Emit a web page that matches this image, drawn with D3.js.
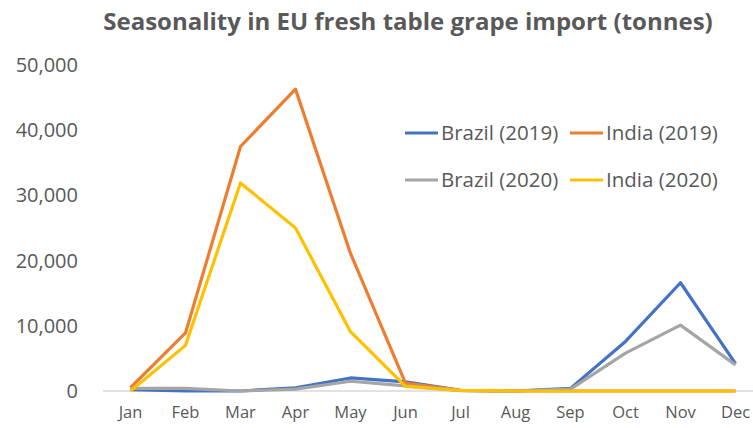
<!DOCTYPE html>
<html>
<head>
<meta charset="utf-8">
<script src="https://cdn.jsdelivr.net/npm/d3@7"></script>
<style>
  body { margin: 0; background: #fff; }
  svg { display: block; font-family: "Open Sans", sans-serif; }
</style>
</head>
<body>
<div id="chart"></div>
<script>
const months = ["Jan", "Feb", "Mar", "Apr", "May", "Jun", "Jul", "Aug", "Sep", "Oct", "Nov", "Dec"];
const brazil2019 = [200, 0, 0, 500, 2000, 1400, 100, 0, 400, 7600, 16600, 4200];
const india2019 = [500, 8900, 37500, 46300, 21100, 1200, 100, 0, 0, 0, 0, 0];
const brazil2020 = [400, 400, 0, 300, 1500, 800, 50, 0, 300, 5800, 10100, 4000];
const india2020 = [0, 7000, 31900, 25000, 9100, 700, 100, 0, 0, 0, 0, 0];
const yTicks = [0, 10000, 20000, 30000, 40000, 50000];

const series = [
  { name: "Brazil (2019)", values: brazil2019, color: "#4472C4" },
  { name: "India (2019)", values: india2019, color: "#ED7D31" },
  { name: "Brazil (2020)", values: brazil2020, color: "#A5A5A5" },
  { name: "India (2020)", values: india2020, color: "#FFC000" }
];

const width = 753;
const height = 428;
const margin = { top: 65, right: 0, bottom: 37, left: 103 };

const svg = d3.select("#chart")
  .append("svg")
  .attr("width", width)
  .attr("height", height);

const xScale = d3.scaleBand()
  .domain(months)
  .range([margin.left, margin.left + 55 * 12]);

const yScale = d3.scaleLinear()
  .domain([0, 50000])
  .range([height - margin.bottom, margin.top]);

// baseline
svg.append("line")
  .attr("x1", margin.left)
  .attr("x2", width)
  .attr("y1", yScale(0))
  .attr("y2", yScale(0))
  .attr("stroke", "#D9D9D9")
  .attr("stroke-width", 1.5);

// y axis labels
svg.selectAll(".yLabel")
  .data(yTicks)
  .enter()
  .append("text")
  .attr("class", "yLabel")
  .attr("x", 78)
  .attr("y", d => yScale(d))
  .attr("dy", "0.35em")
  .attr("text-anchor", "end")
  .style("font-size", "20px")
  .style("fill", "#595959")
  .text(d => d3.format(",")(d));

// x axis labels
svg.selectAll(".xLabel")
  .data(months)
  .enter()
  .append("text")
  .attr("class", "xLabel")
  .attr("x", d => xScale(d) + xScale.bandwidth() / 2)
  .attr("y", yScale(0) + 27)
  .attr("text-anchor", "middle")
  .style("font-size", "16.5px")
  .style("fill", "#595959")
  .text(d => d);

const line = d3.line()
  .x((d, i) => xScale(months[i]) + xScale.bandwidth() / 2)
  .y(d => yScale(d));

series.forEach(s => {
  svg.append("path")
    .datum(s.values)
    .attr("fill", "none")
    .attr("stroke", s.color)
    .attr("stroke-width", 3.2)
    .attr("stroke-linejoin", "round")
    .attr("d", line);
});

// legend
const legend = svg.append("g");
series.forEach((s, i) => {
  const col = i % 2;
  const row = Math.floor(i / 2);
  const lx = 405 + col * 165;
  const ly = 133 + row * 47;
  legend.append("line")
    .attr("x1", lx)
    .attr("x2", lx + 33)
    .attr("y1", ly)
    .attr("y2", ly)
    .attr("stroke", s.color)
    .attr("stroke-width", 3.2);
  legend.append("text")
    .attr("x", lx + 36)
    .attr("y", ly)
    .attr("dy", "0.35em")
    .style("font-size", "20.5px")
    .style("fill", "#595959")
    .text(s.name);
});

svg.append("text")
  .attr("x", 408)
  .attr("y", 30)
  .attr("text-anchor", "middle")
  .style("font-size", "24px")
  .style("font-weight", "bold")
  .style("fill", "#595959")
  .text("Seasonality in EU fresh table grape import (tonnes)");
</script>
</body>
</html>
